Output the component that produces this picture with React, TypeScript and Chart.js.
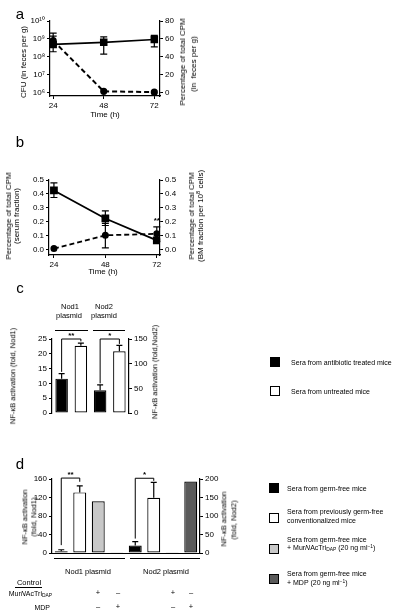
import React, { useEffect, useRef } from "react";
import { Chart, registerables } from "chart.js";

Chart.register(...registerables);

const FONT = "'Liberation Sans', Arial, Helvetica, sans-serif";
Chart.defaults.font.family = FONT;
Chart.defaults.font.size = 8;
Chart.defaults.color = "#000";

// ---------- panel a ----------
const hoursA = [24, 48, 72];
const cfuA = [5.0e8, 6.5e8, 9.3e8];
const cfuLowA = [1.95e8, 1.45e8, 3.6e8];
const cfuHighA = [2.1e9, 1.3e9, 1.6e9];
const cpmA = [58, 1.2, 0.3];
const cpmLowA = [53, null, null];
const cpmHighA = [63, null, null];
const cfuTicksA = [1e6, 1e7, 1e8, 1e9, 1e10];
const cpmTicksA = [0, 20, 40, 60, 80];

// ---------- panel b ----------
const hoursB = [24, 48, 72];
const serumB = [0.425, 0.225, 0.068];
const serumLowB = [0.375, 0.175, 0.06];
const serumHighB = [0.48, 0.28, 0.078];
const bmB = [0.01, 0.105, 0.115];
const bmLowB = [null, 0.015, 0.065];
const bmHighB = [null, 0.19, 0.165];
const ticksB = [0, 0.1, 0.2, 0.3, 0.4, 0.5];
const starsB = [{ x: 72, y: 0.205, text: "**" }];

// ---------- panel c ----------
const groupsC = ["Nod1 antibiotic", "Nod1 untreated", "Nod2 antibiotic", "Nod2 untreated"];
const nod1FoldC = [11.6, 22.7, null, null];
const nod1ErrC = [13.3, 23.6, null, null];
const nod2FoldC = [null, null, 46, 125];
const nod2ErrC = [null, null, 57, 137];
const bracketsC = [
  { from: 0, to: 1, axis: "y", top: 25, leftEnd: 13.9, rightEnd: 24.2, mark: "**" },
  { from: 2, to: 3, axis: "y1", top: 150, leftEnd: 60, rightEnd: 140, mark: "*" },
];

// ---------- panel d ----------
const groupsD = [
  "GF Nod1", "Conv Nod1", "MurNAcTri Nod1", "MDP Nod1",
  "GF Nod2", "Conv Nod2", "MurNAcTri Nod2", "MDP Nod2",
];
const nod1FoldD = [4, 131, 112, 0.8, null, null, null, null];
const nod1ErrD = [7, 145, null, null, null, null, null, null];
const nod2FoldD = [null, null, null, null, 20, 149, 1, 193];
const nod2ErrD = [null, null, null, null, 31, 191, null, null];
const bracketsD = [
  { from: 0, to: 1, axis: "y", top: 162, leftEnd: 17, rightEnd: 154, mark: "**" },
  { from: 4, to: 5, axis: "y1", top: 202, leftEnd: 39, rightEnd: 195, mark: "*" },
];

const colorsC = ["#000000", "#ffffff", "#000000", "#ffffff"];
const colorsD = ["#000000", "#ffffff", "#c8c8c8", "#ffffff", "#000000", "#ffffff", "#ffffff", "#5a5a5a"];

const SUP = "⁰¹²³⁴⁵⁶⁷⁸⁹";
const sup = (n: number) => String(n).split("").map((d) => SUP[+d]).join("");

// ---------- plugins ----------
const errorBarPlugin = {
  id: "errorBars",
  afterDatasetsDraw(chart: any) {
    const ctx = chart.ctx;
    chart.data.datasets.forEach((ds: any, i: number) => {
      if (!ds.errHi) return;
      const meta = chart.getDatasetMeta(i);
      const ys = chart.scales[meta.yAxisID];
      ctx.save();
      ctx.strokeStyle = "#000";
      ctx.lineWidth = ds.errLineWidth ?? 1.2;
      meta.data.forEach((el: any, j: number) => {
        const hi = ds.errHi[j];
        if (hi == null) return;
        const v = ds.data[j];
        const base = typeof v === "object" && v !== null ? v.y : v;
        const lo = ds.errLo ? ds.errLo[j] : base;
        const x = el.x;
        const yH = ys.getPixelForValue(hi);
        const yL = ys.getPixelForValue(lo);
        const cw = ds.capHalf ?? 3;
        ctx.beginPath();
        ctx.moveTo(x, yL);
        ctx.lineTo(x, yH);
        ctx.moveTo(x - cw, yH);
        ctx.lineTo(x + cw, yH);
        if (ds.errLo) {
          ctx.moveTo(x - cw, yL);
          ctx.lineTo(x + cw, yL);
        }
        ctx.stroke();
      });
      ctx.restore();
    });
  },
};

function makeBracketPlugin(items: any[]) {
  return {
    id: "brackets",
    afterDatasetsDraw(chart: any) {
      const ctx = chart.ctx;
      const xs = chart.scales.x;
      ctx.save();
      ctx.strokeStyle = "#000";
      ctx.fillStyle = "#000";
      ctx.lineWidth = 1;
      ctx.font = `bold 8px ${FONT}`;
      ctx.textAlign = "center";
      ctx.textBaseline = "bottom";
      items.forEach((b) => {
        const ys = chart.scales[b.axis];
        const x1 = xs.getPixelForValue(b.from);
        const x2 = xs.getPixelForValue(b.to);
        const yT = ys.getPixelForValue(b.top);
        const y1 = ys.getPixelForValue(b.leftEnd);
        const y2 = ys.getPixelForValue(b.rightEnd);
        ctx.beginPath();
        ctx.moveTo(x1, y1);
        ctx.lineTo(x1, yT);
        ctx.lineTo(x2, yT);
        ctx.lineTo(x2, y2);
        ctx.stroke();
        ctx.fillText(b.mark, (x1 + x2) / 2, yT + 1);
      });
      ctx.restore();
    },
  };
}

function makeStarPlugin(items: any[]) {
  return {
    id: "stars",
    afterDatasetsDraw(chart: any) {
      const ctx = chart.ctx;
      ctx.save();
      ctx.fillStyle = "#000";
      ctx.font = `bold 8px ${FONT}`;
      ctx.textAlign = "center";
      ctx.textBaseline = "middle";
      items.forEach((s) => {
        ctx.fillText(s.text, chart.scales.x.getPixelForValue(s.x), chart.scales.y.getPixelForValue(s.y));
      });
      ctx.restore();
    },
  };
}

const axisGrid = { display: true, drawOnChartArea: false, drawTicks: true, tickLength: 3, color: "#000", lineWidth: 1 };
const axisBorder = { display: true, color: "#000", width: 1.2 };

function fixedTicks(vals: number[]) {
  return (s: any) => {
    s.ticks = vals.map((v) => ({ value: v }));
  };
}

function configA() {
  return {
    type: "line",
    data: {
      datasets: [
        {
          data: hoursA.map((t, i) => ({ x: t, y: cfuA[i] })),
          yAxisID: "y",
          borderColor: "#000",
          backgroundColor: "#000",
          borderWidth: 1.6,
          pointStyle: "rect",
          pointRadius: 4.2,
          errLo: cfuLowA,
          errHi: cfuHighA,
          capHalf: 3.5,
        },
        {
          data: hoursA.map((t, i) => ({ x: t, y: cpmA[i] })),
          yAxisID: "y1",
          borderColor: "#000",
          backgroundColor: "#000",
          borderWidth: 2,
          borderDash: [5, 3],
          pointStyle: "circle",
          pointRadius: 2.6,
          errLo: cpmLowA,
          errHi: cpmHighA,
          capHalf: 3.5,
        },
      ],
    },
    options: {
      responsive: false,
      animation: false,
      layout: { padding: { top: 21, left: 0, right: 0, bottom: 0 } },
      plugins: { legend: { display: false }, tooltip: { enabled: false } },
      scales: {
        x: {
          type: "linear",
          min: 22.5,
          max: 74.7,
          afterBuildTicks: fixedTicks(hoursA),
          ticks: { padding: 2 },
          grid: axisGrid,
          border: axisBorder,
          afterFit: (s: any) => { s.height = 29; },
        },
        y: {
          type: "logarithmic",
          position: "left",
          min: Math.pow(10, 5.83),
          max: 1e10,
          afterBuildTicks: fixedTicks(cfuTicksA),
          ticks: { padding: 2, callback: (v: number) => "10" + sup(Math.round(Math.log10(v))) },
          grid: axisGrid,
          border: axisBorder,
          afterFit: (s: any) => { s.width = 50; },
        },
        y1: {
          type: "linear",
          position: "right",
          min: -4,
          max: 80,
          afterBuildTicks: fixedTicks(cpmTicksA),
          ticks: { padding: 2 },
          grid: axisGrid,
          border: axisBorder,
          afterFit: (s: any) => { s.width = 45; },
        },
      },
    },
    plugins: [errorBarPlugin],
  };
}

function configB() {
  return {
    type: "line",
    data: {
      datasets: [
        {
          data: hoursB.map((t, i) => ({ x: t, y: serumB[i] })),
          yAxisID: "y",
          borderColor: "#000",
          backgroundColor: "#000",
          borderWidth: 1.8,
          pointStyle: "rect",
          pointRadius: 4.2,
          errLo: serumLowB,
          errHi: serumHighB,
          capHalf: 3.5,
        },
        {
          data: hoursB.map((t, i) => ({ x: t, y: bmB[i] })),
          yAxisID: "y",
          borderColor: "#000",
          backgroundColor: "#000",
          borderWidth: 1.8,
          borderDash: [5, 3],
          pointStyle: "circle",
          pointRadius: 2.6,
          errLo: bmLowB,
          errHi: bmHighB,
          capHalf: 3.5,
        },
      ],
    },
    options: {
      responsive: false,
      animation: false,
      layout: { padding: { top: 30, left: 0, right: 0, bottom: 0 } },
      plugins: { legend: { display: false }, tooltip: { enabled: false } },
      scales: {
        x: {
          type: "linear",
          min: 21.7,
          max: 73.5,
          afterBuildTicks: fixedTicks(hoursB),
          ticks: { padding: 2 },
          grid: axisGrid,
          border: axisBorder,
          afterFit: (s: any) => { s.height = 20; },
        },
        y: {
          type: "linear",
          position: "left",
          min: -0.036,
          max: 0.5,
          afterBuildTicks: fixedTicks(ticksB),
          ticks: { padding: 2, callback: (v: number) => v.toFixed(1) },
          grid: axisGrid,
          border: axisBorder,
          afterFit: (s: any) => { s.width = 49; },
        },
        y1: {
          type: "linear",
          position: "right",
          min: -0.036,
          max: 0.5,
          afterBuildTicks: fixedTicks(ticksB),
          ticks: { padding: 2, callback: (v: number) => v.toFixed(1) },
          grid: axisGrid,
          border: axisBorder,
          afterFit: (s: any) => { s.width = 45; },
        },
      },
    },
    plugins: [errorBarPlugin, makeStarPlugin(starsB)],
  };
}

function barDataset(data: any[], err: any[], axis: string, colors: string[], pct: number) {
  return {
    data,
    yAxisID: axis,
    backgroundColor: colors,
    borderColor: "#000",
    borderWidth: 1.2,
    borderSkipped: false,
    grouped: false,
    barPercentage: pct,
    categoryPercentage: 1,
    errHi: err,
    capHalf: 3,
  };
}

function configC() {
  return {
    type: "bar",
    data: {
      labels: groupsC,
      datasets: [
        barDataset(nod1FoldC, nod1ErrC, "y", colorsC, 0.65),
        barDataset(nod2FoldC, nod2ErrC, "y1", colorsC, 0.65),
      ],
    },
    options: {
      responsive: false,
      animation: false,
      layout: { padding: { top: 44, left: 0, right: 0, bottom: 0 } },
      plugins: { legend: { display: false }, tooltip: { enabled: false } },
      scales: {
        x: {
          grid: { display: false },
          ticks: { display: false },
          border: { display: false },
          afterFit: (s: any) => { s.height = 7; },
        },
        y: {
          position: "left",
          min: 0,
          max: 25,
          ticks: { stepSize: 5, padding: 2 },
          grid: axisGrid,
          border: axisBorder,
          afterFit: (s: any) => { s.width = 52; },
        },
        y1: {
          position: "right",
          min: 0,
          max: 150,
          ticks: { stepSize: 25, padding: 2 },
          grid: axisGrid,
          border: axisBorder,
          afterFit: (s: any) => { s.width = 76; },
        },
      },
    },
    plugins: [errorBarPlugin, makeBracketPlugin(bracketsC)],
  };
}

function configD() {
  return {
    type: "bar",
    data: {
      labels: groupsD,
      datasets: [
        barDataset(nod1FoldD, nod1ErrD, "y", colorsD, 0.7),
        barDataset(nod2FoldD, nod2ErrD, "y1", colorsD, 0.7),
      ],
    },
    options: {
      responsive: false,
      animation: false,
      layout: { padding: { top: 39, left: 0, right: 0, bottom: 0 } },
      plugins: { legend: { display: false }, tooltip: { enabled: false } },
      scales: {
        x: {
          grid: { display: false },
          ticks: { display: false },
          border: { display: true, color: "#000", width: 1 },
          afterFit: (s: any) => { s.height = 7; },
        },
        y: {
          position: "left",
          min: 0,
          max: 160,
          ticks: { stepSize: 40, padding: 2 },
          grid: axisGrid,
          border: axisBorder,
          afterFit: (s: any) => { s.width = 52; },
        },
        y1: {
          position: "right",
          min: 0,
          max: 200,
          ticks: { stepSize: 50, padding: 2 },
          grid: axisGrid,
          border: axisBorder,
          afterFit: (s: any) => { s.width = 60; },
        },
      },
    },
    plugins: [errorBarPlugin, makeBracketPlugin(bracketsD)],
  };
}

function ChartBox({ left, top, width, height, make }: { left: number; top: number; width: number; height: number; make: () => any }) {
  const ref = useRef<HTMLCanvasElement>(null);
  useEffect(() => {
    const c = new Chart(ref.current as HTMLCanvasElement, make());
    return () => c.destroy();
  }, []);
  return (
    <canvas
      ref={ref}
      width={width}
      height={height}
      style={{ position: "absolute", left, top, width, height }}
    />
  );
}

type TP = { x: number; y: number; rot?: number; size?: number; anchor?: "center" | "left" | "right"; children: React.ReactNode; style?: any };
function T({ x, y, rot = 0, size = 8, anchor = "center", children, style }: TP) {
  const tx = anchor === "center" ? "-50%" : anchor === "left" ? "0%" : "-100%";
  return (
    <div
      style={{
        position: "absolute",
        left: x,
        top: y,
        transform: `translate(${tx},-50%) rotate(${rot}deg)`,
        willChange: "transform",
        fontSize: size,
        lineHeight: 1,
        whiteSpace: "nowrap",
        fontFamily: FONT,
        color: "#000",
        ...style,
      }}
    >
      {children}
    </div>
  );
}

function Sq({ x, y, fill }: { x: number; y: number; fill: string }) {
  return (
    <div
      style={{
        position: "absolute",
        left: x,
        top: y,
        width: 8,
        height: 8,
        background: fill,
        border: "1.2px solid #000",
      }}
    />
  );
}

function HLine({ x1, x2, y, w = 1.2 }: { x1: number; x2: number; y: number; w?: number }) {
  return <div style={{ position: "absolute", left: x1, top: y, width: x2 - x1, height: 0, borderTop: `${w}px solid #000` }} />;
}

const Mur = () => (
  <span>
    Mur<i>N</i>AcTri<span style={{ fontSize: "0.7em", position: "relative", top: "0.3em" }}>DAP</span>
  </span>
);
const mlInv = (
  <span>
    ml<span style={{ fontSize: "0.7em", position: "relative", top: "-0.45em" }}>−1</span>
  </span>
);

export default function App() {
  const L = 7;
  return (
    <div style={{ position: "absolute", left: 0, top: 0, width: 410, height: 611, background: "#fff", overflow: "hidden", fontFamily: FONT }}>
      <ChartBox left={0} top={0} width={205} height={125} make={configA} />
      <ChartBox left={0} top={150} width={205} height={125} make={configB} />
      <ChartBox left={0} top={295} width={205} height={125} make={configC} />
      <ChartBox left={0} top={440} width={260} height={120} make={configD} />

      {/* panel letters */}
      <T x={20} y={13} size={15}>a</T>
      <T x={20} y={141} size={15}>b</T>
      <T x={20} y={287} size={15}>c</T>
      <T x={20} y={463} size={15}>d</T>

      {/* panel a */}
      <T x={23.5} y={62} rot={-90}>CFU (in feces per g)</T>
      <T x={183} y={62} rot={-90}>Percentage of total CPM</T>
      <T x={194} y={64} rot={-90}>(in&nbsp;&nbsp;feces per g)</T>
      <T x={105} y={115}>Time (h)</T>

      {/* panel b */}
      <T x={8.5} y={216} rot={-90}>Percentage of total CPM</T>
      <T x={17} y={216} rot={-90}>(serum fraction)</T>
      <T x={192} y={216} rot={-90}>Percentage of total CPM</T>
      <T x={200.5} y={216} rot={-90}>
        (BM fraction per 10<span style={{ fontSize: "0.7em", position: "relative", top: "-0.45em" }}>8</span> cells)
      </T>
      <T x={103} y={272}>Time (h)</T>

      {/* panel c */}
      <T x={70} y={307} size={7.5}>Nod1</T>
      <T x={69} y={316} size={7.5}>plasmid</T>
      <T x={104} y={307} size={7.5}>Nod2</T>
      <T x={104} y={316} size={7.5}>plasmid</T>
      <HLine x1={55} x2={88} y={329.5} />
      <HLine x1={93} x2={125} y={329.5} />
      <T x={13} y={376} rot={-90} size={7.5}>NF-κB activation (fold, Nod1)</T>
      <T x={155} y={372} rot={-90} size={7.5}>NF-κB activation (fold,Nod2)</T>

      <Sq x={270} y={357} fill="#000" />
      <T x={291} y={362} size={L} anchor="left">Sera from antibiotic treated mice</T>
      <Sq x={270} y={386} fill="#fff" />
      <T x={291} y={391} size={L} anchor="left">Sera from untreated mice</T>

      {/* panel d */}
      <T x={25} y={517} rot={-90} size={7.5}>NF-κB activation</T>
      <T x={33.5} y={517} rot={-90} size={7.5}>(fold, Nod1)</T>
      <T x={223.5} y={519} rot={-90} size={7.5}>NF-κB activation</T>
      <T x={233.5} y={520} rot={-90} size={7.5}>(fold, Nod2)</T>
      <HLine x1={54} x2={125} y={557.5} />
      <HLine x1={130} x2={200} y={557.5} />
      <T x={88} y={572} size={7.5}>Nod1 plasmid</T>
      <T x={165.5} y={572} size={7.5}>Nod2 plasmid</T>

      <T x={28.5} y={583} size={7.5}>Control</T>
      <HLine x1={15} x2={42} y={587} w={1} />
      <T x={52} y={594} size={7} anchor="right"><Mur /></T>
      <T x={50} y={606.5} size={7} anchor="right">MDP</T>
      <T x={98.3} y={593} size={7.5}>+</T>
      <T x={117.7} y={593} size={7.5}>–</T>
      <T x={98.3} y={606.5} size={7.5}>–</T>
      <T x={117.7} y={606.5} size={7.5}>+</T>
      <T x={172.7} y={593} size={7.5}>+</T>
      <T x={191} y={593} size={7.5}>–</T>
      <T x={172.7} y={606.5} size={7.5}>–</T>
      <T x={191} y={606.5} size={7.5}>+</T>

      <Sq x={269} y={483} fill="#000" />
      <T x={287} y={488} size={L} anchor="left">Sera from germ-free mice</T>
      <Sq x={269} y={513} fill="#fff" />
      <T x={287} y={511} size={L} anchor="left">Sera from previously germ-free</T>
      <T x={287} y={520} size={L} anchor="left">conventionalized mice</T>
      <Sq x={269} y={544} fill="#c8c8c8" />
      <T x={287} y={539} size={L} anchor="left">Sera from germ-free mice</T>
      <T x={287} y={548} size={L} anchor="left">+ <Mur /> (20 ng {mlInv})</T>
      <Sq x={269} y={574} fill="#5a5a5a" />
      <T x={287} y={573} size={L} anchor="left">Sera from germ-free mice</T>
      <T x={287} y={583} size={L} anchor="left">+ MDP (20 ng {mlInv})</T>
    </div>
  );
}
